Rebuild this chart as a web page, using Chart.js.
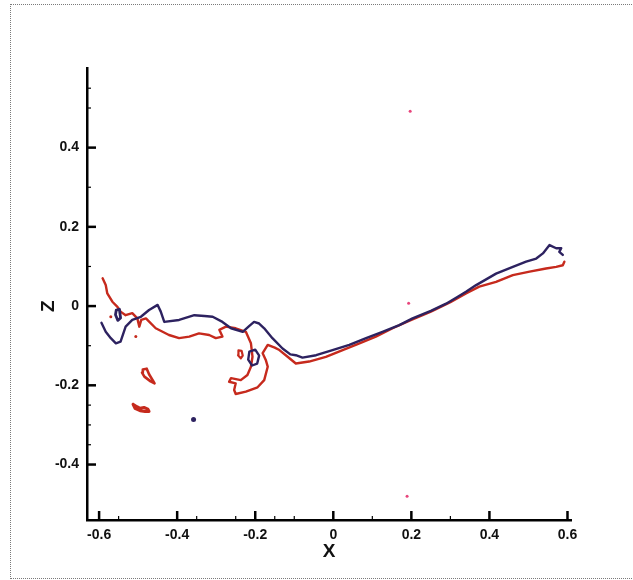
<!DOCTYPE html>
<html>
<head>
<meta charset="utf-8">
<script src="https://cdn.jsdelivr.net/npm/chart.js@4.4.1/dist/chart.umd.min.js"></script>
<style>
    html, body { margin: 0; padding: 0; background: #fff; }
    #wrap { position: relative; width: 633px; height: 580px; overflow: hidden; }
    #frame { position: absolute; left: 10px; top: 4px; width: 640px; height: 573px; border: 1px dotted #7a7a7a; }
    canvas { position: absolute; left: 0; top: 0; }
</style>
</head>
<body>
<div id="wrap">
    <div id="frame"></div>
    <canvas id="chart" width="633" height="580"></canvas>
</div>
<script>
// axis ticks
const xTicks = [-0.6, -0.4, -0.2, 0, 0.2, 0.4, 0.6];
const yTicks = [-0.4, -0.2, 0, 0.2, 0.4];
const xMinor = [-0.55, -0.35, -0.25, -0.15, -0.1, 0.1, 0.3];
const yMinor = [0.55, 0.5, 0.3, 0.1, -0.1, -0.25, -0.3, -0.35];

// navy (dark) curve and its small pieces, [x, z]
const navyLine = [
    [-0.594, -0.042], [-0.583, -0.065], [-0.570, -0.081], [-0.557, -0.094], [-0.545, -0.090],
    [-0.532, -0.052], [-0.515, -0.035], [-0.493, -0.027], [-0.472, -0.010], [-0.450, 0.003],
    [-0.442, -0.014], [-0.433, -0.040], [-0.395, -0.035], [-0.356, -0.023], [-0.330, -0.025],
    [-0.309, -0.027], [-0.284, -0.040], [-0.262, -0.056], [-0.232, -0.065], [-0.215, -0.050],
    [-0.203, -0.040], [-0.190, -0.044], [-0.177, -0.056], [-0.156, -0.081], [-0.130, -0.107],
    [-0.110, -0.122], [-0.096, -0.124], [-0.079, -0.130], [-0.044, -0.124], [-0.002, -0.111],
    [0.041, -0.098], [0.084, -0.081], [0.126, -0.065], [0.169, -0.048], [0.203, -0.031],
    [0.250, -0.012], [0.289, 0.006], [0.320, 0.024], [0.340, 0.036], [0.366, 0.053], [0.417, 0.082],
    [0.460, 0.099], [0.494, 0.112], [0.520, 0.120], [0.537, 0.133], [0.554, 0.154],
    [0.571, 0.146], [0.584, 0.146], [0.579, 0.137], [0.588, 0.129]
];
const navyLoop = [
    [-0.215, -0.115], [-0.200, -0.110], [-0.190, -0.125], [-0.195, -0.145],
    [-0.208, -0.150], [-0.218, -0.135], [-0.215, -0.115]
];
const navyBlob = [
    [-0.556, -0.010], [-0.548, -0.008], [-0.545, -0.030], [-0.552, -0.036],
    [-0.558, -0.022], [-0.556, -0.010]
];
const navyDots = [[-0.358, -0.286]];

// red curve and its small pieces
const redLine = [
    [-0.591, 0.070], [-0.583, 0.053], [-0.579, 0.032], [-0.566, 0.011], [-0.553, -0.002],
    [-0.545, -0.014], [-0.532, -0.023], [-0.515, -0.018], [-0.502, -0.031], [-0.497, -0.052],
    [-0.492, -0.035], [-0.480, -0.031], [-0.455, -0.056], [-0.421, -0.073], [-0.395, -0.081],
    [-0.369, -0.077], [-0.344, -0.069], [-0.318, -0.073], [-0.301, -0.081], [-0.284, -0.077],
    [-0.292, -0.060], [-0.275, -0.052], [-0.250, -0.056], [-0.224, -0.065], [-0.211, -0.094],
    [-0.207, -0.128], [-0.211, -0.153], [-0.220, -0.174], [-0.237, -0.187], [-0.262, -0.182],
    [-0.267, -0.191], [-0.250, -0.195], [-0.254, -0.212], [-0.250, -0.222], [-0.224, -0.216],
    [-0.194, -0.205], [-0.177, -0.187], [-0.168, -0.153], [-0.173, -0.136], [-0.181, -0.119],
    [-0.168, -0.098], [-0.150, -0.105], [-0.138, -0.111], [-0.117, -0.128], [-0.096, -0.145],
    [-0.062, -0.140], [-0.019, -0.128], [0.024, -0.111], [0.067, -0.094], [0.109, -0.077],
    [0.152, -0.056], [0.200, -0.035], [0.250, -0.014], [0.300, 0.010], [0.340, 0.032],
    [0.374, 0.049], [0.417, 0.061], [0.460, 0.078], [0.503, 0.087], [0.545, 0.095],
    [0.571, 0.099], [0.588, 0.103], [0.592, 0.112]
];
const redLoopA = [
    [-0.243, -0.112], [-0.235, -0.113], [-0.232, -0.125], [-0.237, -0.132],
    [-0.244, -0.124], [-0.243, -0.112]
];
const redLoopB = [
    [-0.488, -0.160], [-0.478, -0.158], [-0.472, -0.172], [-0.462, -0.188], [-0.458, -0.195],
    [-0.468, -0.190], [-0.484, -0.178], [-0.490, -0.168], [-0.488, -0.160]
];
const redSquiggle = [
    [-0.513, -0.248], [-0.503, -0.254], [-0.495, -0.258], [-0.485, -0.256], [-0.475, -0.260],
    [-0.472, -0.266], [-0.482, -0.266], [-0.495, -0.264], [-0.508, -0.258], [-0.513, -0.248]
];
const redDots = [[-0.570, -0.027], [-0.506, -0.077]];
const pinkDots = [[0.197, 0.492], [0.193, 0.007], [0.189, -0.480]];

const NAVY = '#2d2260';
const RED = '#c62a1d';
const toXY = arr => arr.map(p => ({ x: p[0], y: p[1] }));
const fmt = v => (Math.abs(v) < 1e-9 ? '0' : String(Math.round(v * 10) / 10));

const lineSet = (data, color, width) => ({
    data: toXY(data),
    showLine: true,
    borderColor: color,
    borderWidth: width,
    borderJoinStyle: 'round',
    borderCapStyle: 'round',
    pointRadius: 0,
    tension: 0,
    fill: false
});
const dotSet = (data, color, r) => ({
    data: toXY(data),
    showLine: false,
    pointRadius: r,
    pointBackgroundColor: color,
    pointBorderWidth: 0
});

// inward tick marks on both axes plus the rotated Z label
const axisTicks = {
    id: 'axisTicks',
    afterDraw(chart) {
        const { ctx, chartArea } = chart;
        const x = chart.scales.x, y = chart.scales.y;
        ctx.save();
        ctx.strokeStyle = '#000';
        const drawX = (vals, len, w) => {
            ctx.lineWidth = w;
            vals.forEach(v => {
                const px = x.getPixelForValue(v);
                ctx.beginPath();
                ctx.moveTo(px, chartArea.bottom);
                ctx.lineTo(px, chartArea.bottom - len);
                ctx.stroke();
            });
        };
        const drawY = (vals, len, w) => {
            ctx.lineWidth = w;
            vals.forEach(v => {
                const py = y.getPixelForValue(v);
                ctx.beginPath();
                ctx.moveTo(chartArea.left, py);
                ctx.lineTo(chartArea.left + len, py);
                ctx.stroke();
            });
        };
        drawX(xTicks, 9, 2.5);
        drawX(xMinor, 4, 1.2);
        drawY(yTicks, 9, 2.5);
        drawY(yMinor, 4, 1.2);

        ctx.translate(49, y.getPixelForValue(0));
        ctx.rotate(-Math.PI / 2);
        ctx.fillStyle = '#111';
        ctx.font = 'bold 19px "Liberation Sans", Arial, sans-serif';
        ctx.textAlign = 'center';
        ctx.textBaseline = 'middle';
        ctx.fillText('Z', 0, 0);
        ctx.restore();
    }
};

const tickFont = { family: '"Liberation Sans", Arial, sans-serif', size: 14, weight: 'bold' };

new Chart(document.getElementById('chart').getContext('2d'), {
    type: 'scatter',
    data: {
        datasets: [
            lineSet(navyLine, NAVY, 2.4),
            lineSet(navyLoop, NAVY, 2.4),
            lineSet(navyBlob, NAVY, 2.8),
            dotSet(navyDots, NAVY, 2.5),
            lineSet(redLine, RED, 2.4),
            lineSet(redLoopA, RED, 2.2),
            lineSet(redLoopB, RED, 2.6),
            lineSet(redSquiggle, RED, 3),
            dotSet(redDots, RED, 1.5),
            dotSet(pinkDots, '#e8457c', 1.5)
        ]
    },
    options: {
        responsive: false,
        animation: false,
        layout: { padding: { left: 10, right: 62, top: 68, bottom: 10 } },
        plugins: {
            legend: { display: false },
            tooltip: { enabled: false }
        },
        scales: {
            x: {
                type: 'linear',
                min: -0.631,
                max: 0.609,
                afterBuildTicks: s => { s.ticks = xTicks.map(v => ({ value: v })); },
                afterFit: s => { s.height = 50; },
                grid: { display: false, drawTicks: false },
                border: { display: true, color: '#000', width: 2.5 },
                ticks: { callback: v => fmt(v), color: '#111', font: tickFont, padding: 7, maxRotation: 0 },
                title: {
                    display: true,
                    text: 'X',
                    color: '#111',
                    font: { family: '"Liberation Sans", Arial, sans-serif', size: 19, weight: 'bold' },
                    padding: { top: 0, bottom: 7 }
                }
            },
            y: {
                type: 'linear',
                min: -0.54,
                max: 0.601,
                afterBuildTicks: s => { s.ticks = yTicks.map(v => ({ value: v })); },
                afterFit: s => { s.width = 77; },
                grid: { display: false, drawTicks: false },
                border: { display: true, color: '#000', width: 2.5 },
                ticks: { callback: v => fmt(v), color: '#111', font: tickFont, padding: 8 }
            }
        }
    },
    plugins: [axisTicks]
});
</script>
</body>
</html>
